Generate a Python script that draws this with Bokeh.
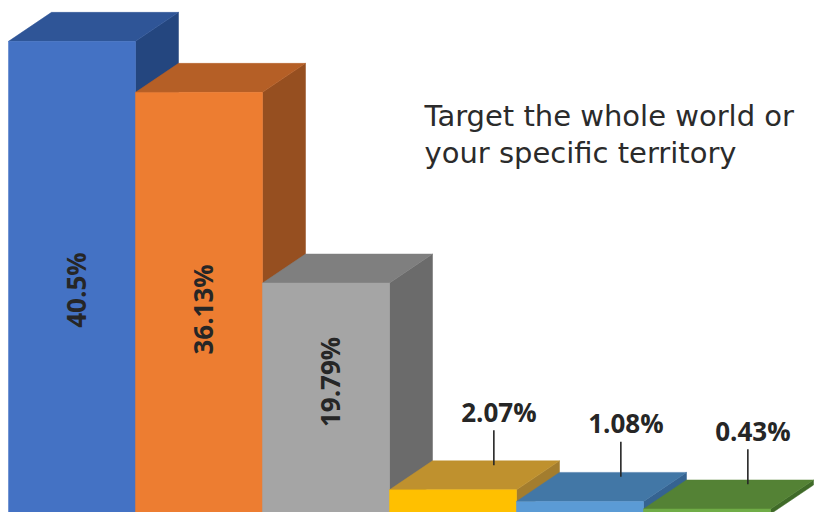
import math
from bokeh.plotting import figure
from bokeh.models import Range1d, Label, ColumnDataSource
from bokeh.core.properties import value
from bokeh.embed import file_html
from bokeh.resources import INLINE

# ---- data ----
shares = [40.5, 36.13, 19.79, 2.07, 1.08, 0.43]
share_labels = ["40.5%", "36.13%", "19.79%", "2.07%", "1.08%", "0.43%"]
front_colors = ["#4472C4", "#ED7D31", "#A5A5A5", "#FFC000", "#5B9BD5", "#70AD47"]
top_colors = ["#2F5597", "#B55F26", "#7F7F7F", "#BF912E", "#4277A6", "#548235"]
side_colors = ["#24467F", "#964F20", "#6B6B6B", "#A37D2E", "#356391", "#3F6A28"]
title_lines = ["Target the whole world or", "your specific territory"]

# ---- geometry (slot units on x, percent on y) ----
PX_PER_SLOT = 127.0
PX_PER_PCT = 11.67
W, H = 816, 512
LEFT_PX = 8
BASE_PAGE_Y = 513.5
DX = 43 / PX_PER_SLOT
DY = 29 / PX_PER_PCT

p = figure(width=W, height=H, output_backend="svg", toolbar_location=None,
           x_range=Range1d(-LEFT_PX / PX_PER_SLOT, (W - LEFT_PX) / PX_PER_SLOT),
           y_range=Range1d((BASE_PAGE_Y - H) / PX_PER_PCT, BASE_PAGE_Y / PX_PER_PCT),
           min_border=0, outline_line_color=None,
           x_axis_location=None, y_axis_location=None)
p.grid.visible = False
p.background_fill_color = "white"
p.border_fill_color = "white"

xs, ys, cols = [], [], []
for i, v in enumerate(shares):
    x0, x1 = i, i + 1
    # side
    xs.append([x1, x1 + DX, x1 + DX, x1]); ys.append([0, DY, v + DY, v]); cols.append(side_colors[i])
    # top
    xs.append([x0, x1, x1 + DX, x0 + DX]); ys.append([v, v, v + DY, v + DY]); cols.append(top_colors[i])
    # front
    xs.append([x0, x1, x1, x0]); ys.append([0, 0, v, v]); cols.append(front_colors[i])

p.patches(xs="xs", ys="ys", fill_color="c", line_color="c", line_width=0.5,
          source=ColumnDataSource(dict(xs=xs, ys=ys, c=cols)))

# inside labels (tall bars)
inner = [i for i, v in enumerate(shares) if v > 10]
p.text(x=[i + 0.5 + 0.03 for i in inner], y=[shares[i] * 0.38 + 3.8 for i in inner],
       text=[share_labels[i] for i in inner], angle=math.pi / 2,
       text_align="center", text_baseline="middle",
       text_font=value("Open Sans"), text_font_style="bold",
       text_font_size="26px", text_color="#262626")

# outside labels with leader lines (short bars)
outer = [i for i, v in enumerate(shares) if v <= 10]
lx = [i + 0.5 + DX * 0.95 for i in outer]
y_lo = [shares[i] + DY * 0.85 for i in outer]
y_hi = [y + 3.0 for y in y_lo]
p.segment(x0=lx, y0=y_lo, x1=lx, y1=y_hi, line_color="#262626", line_width=1.6)
p.text(x=[x + 0.04 for x in lx], y=[y + 1.6 for y in y_hi],
       text=[share_labels[i] for i in outer],
       text_align="center", text_baseline="middle",
       text_font=value("Open Sans"), text_font_style="bold",
       text_font_size="26px", text_color="#262626")

# title text
for k, line in enumerate(title_lines):
    p.add_layout(Label(x=424, y=H - 115 - 37 * k, x_units="screen", y_units="screen",
                       text=line, text_font="DejaVu Sans", text_font_size="29px",
                       text_color="#2b2b2b", text_baseline="alphabetic"))

open("out.html", "w").write(file_html(p, INLINE))
